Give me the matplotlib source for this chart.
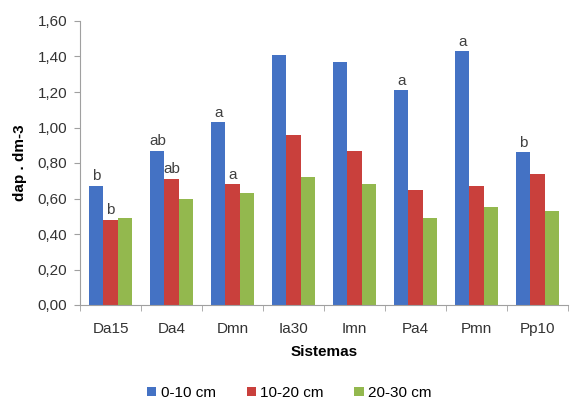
import numpy as np
import matplotlib.pyplot as plt

plt.rcParams["font.family"] = ["Liberation Sans", "DejaVu Sans"]

sistemas = ["Da15", "Da4", "Dmn", "Ia30", "Imn", "Pa4", "Pmn", "Pp10"]
prof_0_10 = [0.67, 0.87, 1.03, 1.41, 1.37, 1.21, 1.43, 0.86]
prof_10_20 = [0.48, 0.71, 0.68, 0.96, 0.87, 0.65, 0.67, 0.74]
prof_20_30 = [0.49, 0.60, 0.63, 0.72, 0.68, 0.49, 0.55, 0.53]
letras_azul = ["b", "ab", "a", "", "", "a", "a", "b"]
letras_verm = ["b", "ab", "a", "", "", "", "", ""]

cores = ["#4472C4", "#C9403C", "#93B84E"]

fig = plt.figure(figsize=(5.79, 4.03), dpi=100)
ax = fig.add_axes([80 / 579, 1 - 305 / 403, 488 / 579, 284 / 403])

x = np.arange(len(sistemas))
w = 0.23
b1 = ax.bar(x - w, prof_0_10, w, color=cores[0], label="0-10 cm")
b2 = ax.bar(x, prof_10_20, w, color=cores[1], label="10-20 cm")
b3 = ax.bar(x + w, prof_20_30, w, color=cores[2], label="20-30 cm")

for xi, v, t in zip(x - w, prof_0_10, letras_azul):
    if t:
        ax.text(xi, v + 0.015, t, ha="center", va="bottom", fontsize=11, color="#404040")
for xi, v, t in zip(x, prof_10_20, letras_verm):
    if t:
        ax.text(xi, v + 0.015, t, ha="center", va="bottom", fontsize=11, color="#404040")

ax.set_xlim(-0.5, len(sistemas) - 0.5)
ax.set_ylim(0, 1.6)
yt = np.arange(0, 1.61, 0.2)
ax.set_yticks(yt)
ax.set_yticklabels(["{:.2f}".format(v).replace(".", ",") for v in yt])
ax.set_xticks(x)
ax.set_xticklabels(sistemas)
ax.set_xticks(np.arange(-0.5, len(sistemas), 1), minor=True)
ax.tick_params(axis="x", which="major", length=0, pad=12, labelsize=11, colors="#333333")
ax.tick_params(axis="x", which="minor", length=4, color="#A0A0A0", direction="out")
ax.tick_params(axis="y", length=4, color="#A0A0A0", labelsize=11, labelcolor="#333333", pad=5)

for s in ["top", "right"]:
    ax.spines[s].set_visible(False)
for s in ["left", "bottom"]:
    ax.spines[s].set_color("#A0A0A0")

ax.set_xlabel("Sistemas", fontsize=11, fontweight="bold", labelpad=7)
ax.set_ylabel("dap . dm-3", fontsize=11, fontweight="bold", labelpad=8)

fig.legend(handles=[b1, b2, b3], loc="center", bbox_to_anchor=(0.5, 1 - 393 / 403),
           ncol=3, frameon=False, fontsize=11, handlelength=0.6, handleheight=0.6,
           handletextpad=0.3, columnspacing=2.0)

fig.savefig("out.png", dpi=100)
